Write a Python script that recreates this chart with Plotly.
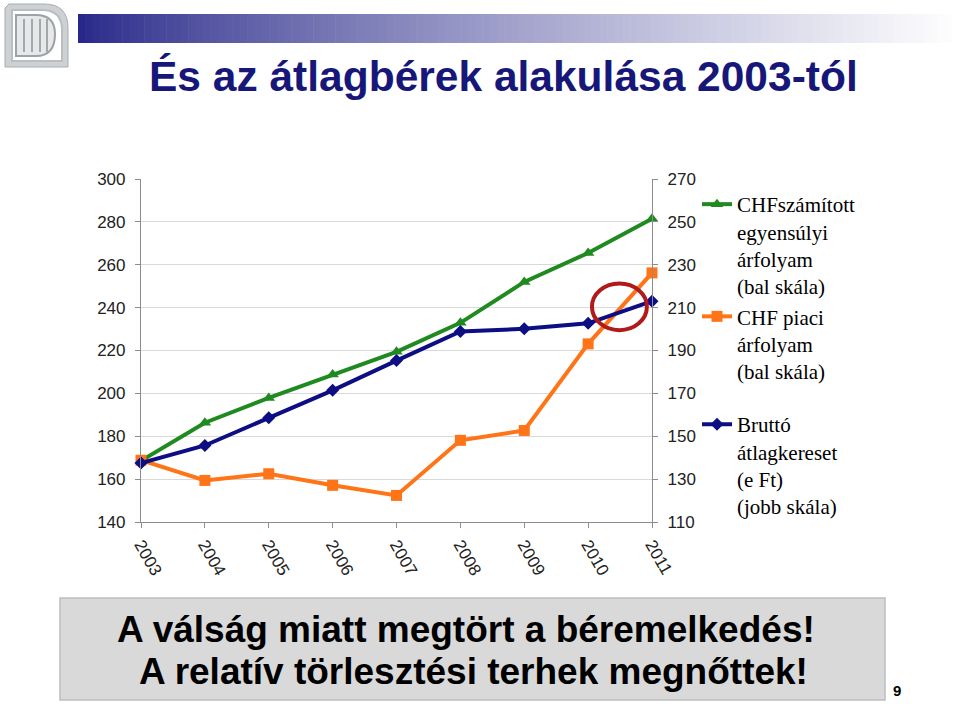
import plotly.graph_objects as go

# ---------------- data ----------------
years = [2003, 2004, 2005, 2006, 2007, 2008, 2009, 2010, 2011]
chf_equilibrium = [168.5, 186.3, 197.9, 208.8, 219.4, 232.9, 252.0, 265.5, 281.5]   # left scale
chf_market = [168.8, 159.4, 162.5, 157.1, 152.4, 178.1, 182.7, 223.1, 256.2]        # left scale
gross_wage = [137.5, 145.7, 158.6, 171.4, 185.3, 198.9, 200.1, 202.7, 213.0]        # right scale (e Ft)

left_ticks = [140, 160, 180, 200, 220, 240, 260, 280, 300]
right_ticks = [110, 130, 150, 170, 190, 210, 230, 250, 270]

name_eq = "CHFszámított<br>egyensúlyi<br>árfolyam<br>(bal skála)"
name_mk = "CHF piaci<br>árfolyam<br>(bal skála)"
name_wg = "Bruttó<br>átlagkereset<br>(e Ft)<br>(jobb skála)"

title_text = "És az átlagbérek alakulása 2003-tól"
bottom_line1 = "A válság miatt megtört a béremelkedés!"
bottom_line2 = "A relatív törlesztési terhek megnőttek!"
page_no = "9"

# ---------------- layout geometry (pixels) ----------------
W, H = 960, 704
PL, PR, PT, PB = 141, 652, 179, 522
pw, ph = PR - PL, PB - PT


def px(x):
    return (x - PL) / pw


def py(y):
    return (PB - y) / ph


GREEN = "#1f8a1f"
ORANGE = "#ff7417"
NAVY = "#0d0d84"

fig = go.Figure()
fig.add_trace(go.Scatter(
    x=years, y=chf_equilibrium, name=name_eq, mode="lines+markers",
    line=dict(color=GREEN, width=4), marker=dict(symbol="triangle-up", size=11, color=GREEN),
    cliponaxis=False, legendgroup="a"))
fig.add_trace(go.Scatter(
    x=years, y=chf_market, name=name_mk, mode="lines+markers",
    line=dict(color=ORANGE, width=4), marker=dict(symbol="square", size=11, color=ORANGE),
    cliponaxis=False, legendgroup="a"))
fig.add_trace(go.Scatter(
    x=years, y=gross_wage, name=name_wg, mode="lines+markers", yaxis="y2",
    line=dict(color=NAVY, width=4), marker=dict(symbol="diamond", size=10, color=NAVY),
    cliponaxis=False, legendgroup="b"))

shapes = []

# gradient header bar
x0b, x1b = 78, 960
n = 120
for i in range(n):
    t = i / (n - 1)
    f = t ** 0.8
    r = int(40 + (255 - 40) * f)
    g = int(40 + (255 - 40) * f)
    b = int(138 + (255 - 138) * f)
    xa = x0b + (x1b - x0b) * i / n
    xb = x0b + (x1b - x0b) * (i + 1) / n + 0.6
    shapes.append(dict(type="rect", xref="paper", yref="paper",
                       x0=px(xa), x1=px(xb), y0=py(43), y1=py(14),
                       fillcolor=f"rgb({r},{g},{b})", line=dict(width=0), layer="below"))


def qpath(pts):
    s = ""
    i = 0
    while i < len(pts):
        c = pts[i]
        if c[0] == "Z":
            s += "Z "
            i += 1
        elif c[0] == "Q":
            nx = pts[i + 1]
            s += f"Q{px(c[1]):.5f},{py(c[2]):.5f} {px(nx[1]):.5f},{py(nx[2]):.5f} "
            i += 2
        else:
            s += f"{c[0]}{px(c[1]):.5f},{py(c[2]):.5f} "
            i += 1
    return s


# logo (approximation): leaf-shaped grey frame with a "D" inside
outer = [("M", 9, 4), ("L", 44, 4), ("Q", 68, 4), ("L", 68, 28), ("L", 68, 67), ("L", 5, 67), ("L", 5, 8), ("Z",)]
shapes.append(dict(type="path", xref="paper", yref="paper", path=qpath(outer),
                   fillcolor="#cdd1d4", line=dict(color="#a7acb0", width=1), layer="below"))
inner = [("M", 12, 10), ("L", 42, 10), ("Q", 62, 10), ("L", 62, 30), ("L", 62, 61), ("L", 12, 61), ("Z",)]
shapes.append(dict(type="path", xref="paper", yref="paper", path=qpath(inner),
                   fillcolor="#ffffff", line=dict(color="#b9bec1", width=2), layer="below"))
dshape = [("M", 16, 15), ("L", 36, 15), ("Q", 55, 15), ("L", 55, 34), ("Q", 55, 56), ("L", 36, 56),
          ("L", 16, 56), ("Z",)]
shapes.append(dict(type="path", xref="paper", yref="paper", path=qpath(dshape),
                   fillcolor="#e6e8ea", line=dict(color="#9ca2a6", width=2), layer="below"))
for xx in [24, 32, 40, 47]:
    shapes.append(dict(type="line", xref="paper", yref="paper", x0=px(xx), x1=px(xx), y0=py(52), y1=py(19),
                       line=dict(color="#a3a8ab", width=2), layer="below"))

# bottom grey box
shapes.append(dict(type="rect", xref="paper", yref="paper", x0=px(60), x1=px(885), y0=py(700), y1=py(598),
                   fillcolor="#d9d9d9", line=dict(color="#bdbdbd", width=1.5), layer="below"))

# red highlight ellipse (data coordinates)
shapes.append(dict(type="circle", xref="x", yref="y", x0=2010.06, x1=2010.92, y0=229.5, y1=251.3,
                   line=dict(color="#b01a1a", width=4), layer="above"))

FONT_BOLD = "Liberation Sans, Arial, sans-serif"
annotations = [
    dict(text=f"<b>{title_text}</b>", xref="paper", yref="paper", x=px(503), y=py(76),
         xanchor="center", yanchor="middle", showarrow=False,
         font=dict(family=FONT_BOLD, size=42.5, color="#17177a")),
    dict(text=f"<b>{bottom_line1}</b>", xref="paper", yref="paper", x=px(466), y=py(629),
         xanchor="center", yanchor="middle", showarrow=False,
         font=dict(family=FONT_BOLD, size=37, color="#000000")),
    dict(text=f"<b>{bottom_line2}</b>", xref="paper", yref="paper", x=px(473), y=py(671),
         xanchor="center", yanchor="middle", showarrow=False,
         font=dict(family=FONT_BOLD, size=37, color="#000000")),
    dict(text=f"<b>{page_no}</b>", xref="paper", yref="paper", x=px(897), y=py(690),
         xanchor="center", yanchor="middle", showarrow=False,
         font=dict(family=FONT_BOLD, size=15, color="#000000")),
]

tickfont = dict(family="Liberation Sans, Arial", size=17, color="#222222")

fig.update_layout(
    width=W, height=H,
    margin=dict(l=PL, r=W - PR, t=PT, b=H - PB, pad=0),
    paper_bgcolor="white", plot_bgcolor="white",
    shapes=shapes, annotations=annotations,
    showlegend=True,
    legend=dict(x=px(697), y=py(184), xanchor="left", yanchor="top",
                font=dict(family="Liberation Serif, Times New Roman, serif", size=21, color="#000000"),
                valign="top", itemwidth=30, tracegroupgap=23, bgcolor="rgba(0,0,0,0)",
                traceorder="grouped", maxheight=650),
    xaxis=dict(range=[2003, 2011], tickmode="array", tickvals=years, ticktext=[str(y) for y in years],
               tickangle=60, tickfont=tickfont, showgrid=False, showline=True, linecolor="#8c8c8c",
               linewidth=1.2, ticks="outside", ticklen=5, tickcolor="#8c8c8c", zeroline=False),
    yaxis=dict(range=[140, 300], tickmode="array", tickvals=left_ticks, tickfont=tickfont,
               showgrid=True, gridcolor="#d9d9d9", gridwidth=1.2, showline=True, linecolor="#8c8c8c",
               linewidth=1.2, ticks="outside", ticklen=5, tickcolor="#8c8c8c", zeroline=False,
               ticklabelstandoff=6),
    yaxis2=dict(range=[110, 270], tickmode="array", tickvals=right_ticks, tickfont=tickfont,
                overlaying="y", side="right", showgrid=False, showline=True, linecolor="#8c8c8c",
                linewidth=1.2, ticks="outside", ticklen=5, tickcolor="#8c8c8c", zeroline=False,
                ticklabelstandoff=6),
)

fig.write_html("out.html")
